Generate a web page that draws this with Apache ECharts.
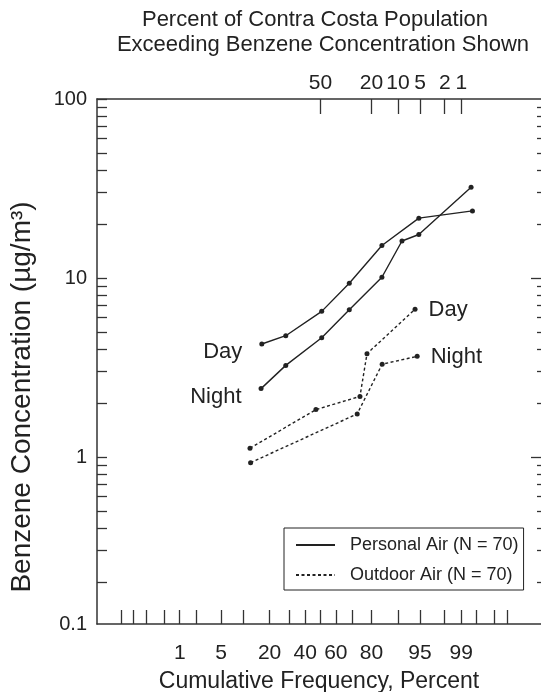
<!DOCTYPE html>
<html>
<head>
<meta charset="utf-8">
<script src="https://cdn.jsdelivr.net/npm/echarts@6/dist/echarts.min.js"></script>
<style>
  html, body { margin: 0; padding: 0; background: #fff; }
  #chart { width: 541px; height: 692px; }
</style>
</head>
<body>
<div id="chart"></div>
<script>
// cumulative frequency (%) and benzene concentration (ug/m3)
const personalDayPct = [16.6, 28.3, 50.8, 68.3, 84.5, 94.8, 99.4]
const personalDayVal = [4.28, 4.76, 6.51, 9.34, 15.2, 21.6, 23.7]
const personalNightPct = [16.3, 28.3, 50.8, 68.3, 84.5, 91.1, 94.8, 99.36]
const personalNightVal = [2.41, 3.25, 4.64, 6.65, 10.1, 16.1, 17.5, 32.1]
const outdoorDayPct = [12.2, 47.0, 74.3, 77.9, 94.1]
const outdoorDayVal = [1.12, 1.84, 2.18, 3.78, 6.69]
const outdoorNightPct = [12.4, 72.8, 84.6, 94.5]
const outdoorNightVal = [0.93, 1.74, 3.30, 3.65]

// axis ticks
const bottomTicks = [0.05, 0.1, 0.2, 0.5, 1, 2, 5, 10, 20, 30, 40, 50, 60, 70, 80, 90, 95, 98, 99, 99.5, 99.8, 99.9]
const bottomLabels = [1, 5, 20, 40, 60, 80, 95, 99]
const topTicks = [50, 80, 90, 95, 98, 99] // cumulative; labelled as percent exceeding
const yMajor = [1, 10, 100]
const yMinor = [0.2, 0.3, 0.4, 0.5, 0.6, 0.7, 0.8, 0.9,
  2, 3, 4, 5, 6, 7, 8, 9, 20, 30, 40, 50, 60, 70, 80, 90]

// normal probability scale: percent -> z
function probit(p) {
  const a = [-3.969683028665376e+01, 2.209460984245205e+02, -2.759285104469687e+02, 1.383577518672690e+02, -3.066479806614716e+01, 2.506628277459239e+00]
  const b = [-5.447609879822406e+01, 1.615858368580409e+02, -1.556989798598866e+02, 6.680131188771972e+01, -1.328068155288572e+01]
  const c = [-7.784894002430293e-03, -3.223964580411365e-01, -2.400758277161838e+00, -2.549671650440001e+00, 4.374664141464968e+00, 2.938163982698783e+00]
  const d = [7.784695709041462e-03, 3.224671290700398e-01, 2.445134137142996e+00, 3.754408661907416e+00]
  const pl = 0.02425
  let q, r
  if (p < pl) {
    q = Math.sqrt(-2 * Math.log(p))
    return (((((c[0] * q + c[1]) * q + c[2]) * q + c[3]) * q + c[4]) * q + c[5]) / ((((d[0] * q + d[1]) * q + d[2]) * q + d[3]) * q + 1)
  }
  if (p <= 1 - pl) {
    q = p - 0.5; r = q * q
    return (((((a[0] * r + a[1]) * r + a[2]) * r + a[3]) * r + a[4]) * r + a[5]) * q / (((((b[0] * r + b[1]) * r + b[2]) * r + b[3]) * r + b[4]) * r + 1)
  }
  q = Math.sqrt(-2 * Math.log(1 - p))
  return -(((((c[0] * q + c[1]) * q + c[2]) * q + c[3]) * q + c[4]) * q + c[5]) / ((((d[0] * q + d[1]) * q + d[2]) * q + d[3]) * q + 1)
}
const z = p => probit(p / 100)
const key = v => Number(v).toFixed(5)

const bottomLabelMap = {}
bottomLabels.forEach(p => { bottomLabelMap[key(z(p))] = String(p) })
const topLabelMap = {}
topTicks.forEach(p => { topLabelMap[key(z(p))] = String(Math.round(100 - p)) })

const xMin = -3.694, xMax = 3.645
const yMin = 0.1167, yMax = 100

const ink = '#222'
const axisInk = '#333'
const font = 'Liberation Sans'

function makeData(pct, val, labelIdx) {
  return pct.map((p, i) => ({
    value: [z(p), val[i]],
    label: { show: i === labelIdx }
  }))
}

function lineSeries(name, pct, val, dashed, labelText, labelIdx, side) {
  return {
    name: name,
    type: 'line',
    data: makeData(pct, val, labelIdx),
    symbol: 'circle',
    symbolSize: 5,
    itemStyle: { color: ink },
    lineStyle: { color: ink, width: 1.4, type: dashed ? [3, 2.5] : 'solid' },
    label: {
      position: side,
      distance: side === 'left' ? 17 : 11,
      offset: side === 'left' ? [0, 8] : [0, 1],
      formatter: labelText,
      fontFamily: font,
      fontSize: 22,
      color: ink
    },
    emphasis: { disabled: true },
    z: 3
  }
}

function yAxisBase(position) {
  return {
    type: 'log', position: position, min: yMin, max: yMax,
    splitLine: { show: false }
  }
}

const chart = echarts.init(document.getElementById('chart'))

chart.setOption({
  animation: false,
  backgroundColor: '#fff',
  textStyle: { fontFamily: font, color: ink },
  grid: { left: 97, right: 0, top: 99, bottom: 68, containLabel: false, outerBoundsMode: 'none' },
  graphic: [
    { type: 'text', x: 315, y: 20, style: { text: 'Percent of Contra Costa Population', font: '22px "Liberation Sans"', fill: ink, align: 'center', verticalAlign: 'middle' } },
    { type: 'text', x: 323, y: 45, style: { text: 'Exceeding Benzene Concentration Shown', font: '22px "Liberation Sans"', fill: ink, align: 'center', verticalAlign: 'middle' } },
    { type: 'text', x: 22, y: 397, rotation: Math.PI / 2, style: { text: 'Benzene Concentration (µg/m³)', font: '28px "Liberation Sans"', fill: ink, align: 'center', verticalAlign: 'middle' } }
  ],
  legend: {
    orient: 'vertical',
    left: 284,
    top: 528,
    itemWidth: 39,
    itemHeight: 14,
    itemGap: 12,
    padding: [8, 5, 6, 11],
    borderColor: ink,
    borderWidth: 1,
    selectedMode: false,
    itemStyle: { opacity: 0 },
    textStyle: { fontFamily: font, fontSize: 18, color: ink, padding: [0, 0, 0, 10] },
    data: ['Personal Air (N = 70)', 'Outdoor Air (N = 70)']
  },
  xAxis: [
    {
      type: 'value', position: 'bottom', min: xMin, max: xMax,
      axisLine: { show: true, onZero: false, lineStyle: { color: axisInk, width: 1.5 } },
      axisTick: { show: true, inside: true, length: 14, customValues: bottomTicks.map(z), lineStyle: { color: axisInk, width: 1.3 } },
      axisLabel: {
        customValues: bottomLabels.map(z), margin: 19, fontSize: 21, fontFamily: font, color: ink,
        formatter: v => bottomLabelMap[key(v)] || ''
      },
      splitLine: { show: false },
      name: 'Cumulative Frequency, Percent', nameLocation: 'middle', nameGap: 46,
      nameTextStyle: { fontSize: 23, fontFamily: font, color: ink }
    },
    {
      type: 'value', position: 'top', min: xMin, max: xMax,
      axisLine: { show: true, onZero: false, lineStyle: { color: axisInk, width: 1.5 } },
      axisTick: { show: true, inside: true, length: 15, customValues: topTicks.map(z), lineStyle: { color: axisInk, width: 1.3 } },
      axisLabel: {
        customValues: topTicks.map(z), margin: 5, fontSize: 21, fontFamily: font, color: ink,
        formatter: v => topLabelMap[key(v)] || ''
      },
      splitLine: { show: false }
    }
  ],
  yAxis: [
    Object.assign(yAxisBase('left'), {
      axisLine: { show: true, onZero: false, lineStyle: { color: axisInk, width: 1.5 } },
      axisTick: { show: true, inside: true, length: 10, customValues: yMajor.concat(yMinor), lineStyle: { color: axisInk, width: 1.3 } },
      axisLabel: {
        customValues: [yMin].concat(yMajor), margin: 10, fontSize: 20, fontFamily: font, color: ink,
        formatter: v => (v < 0.5 ? '0.1' : String(Math.round(v)))
      }
    }),
    Object.assign(yAxisBase('right'), {
      axisLine: { show: false, onZero: false },
      axisTick: { show: true, inside: true, length: 10, customValues: [1, 10], lineStyle: { color: axisInk, width: 1.3 } },
      axisLabel: { show: false }
    }),
    Object.assign(yAxisBase('right'), {
      axisLine: { show: false, onZero: false },
      axisTick: { show: true, inside: true, length: 4, customValues: yMinor, lineStyle: { color: axisInk, width: 1.3 } },
      axisLabel: { show: false }
    })
  ],
  series: [
    lineSeries('Personal Air (N = 70)', personalDayPct, personalDayVal, false, 'Day', 0, 'left'),
    lineSeries('Personal Air (N = 70)', personalNightPct, personalNightVal, false, 'Night', 0, 'left'),
    lineSeries('Outdoor Air (N = 70)', outdoorDayPct, outdoorDayVal, true, 'Day', outdoorDayPct.length - 1, 'right'),
    lineSeries('Outdoor Air (N = 70)', outdoorNightPct, outdoorNightVal, true, 'Night', outdoorNightPct.length - 1, 'right')
  ]
})
</script>
</body>
</html>
